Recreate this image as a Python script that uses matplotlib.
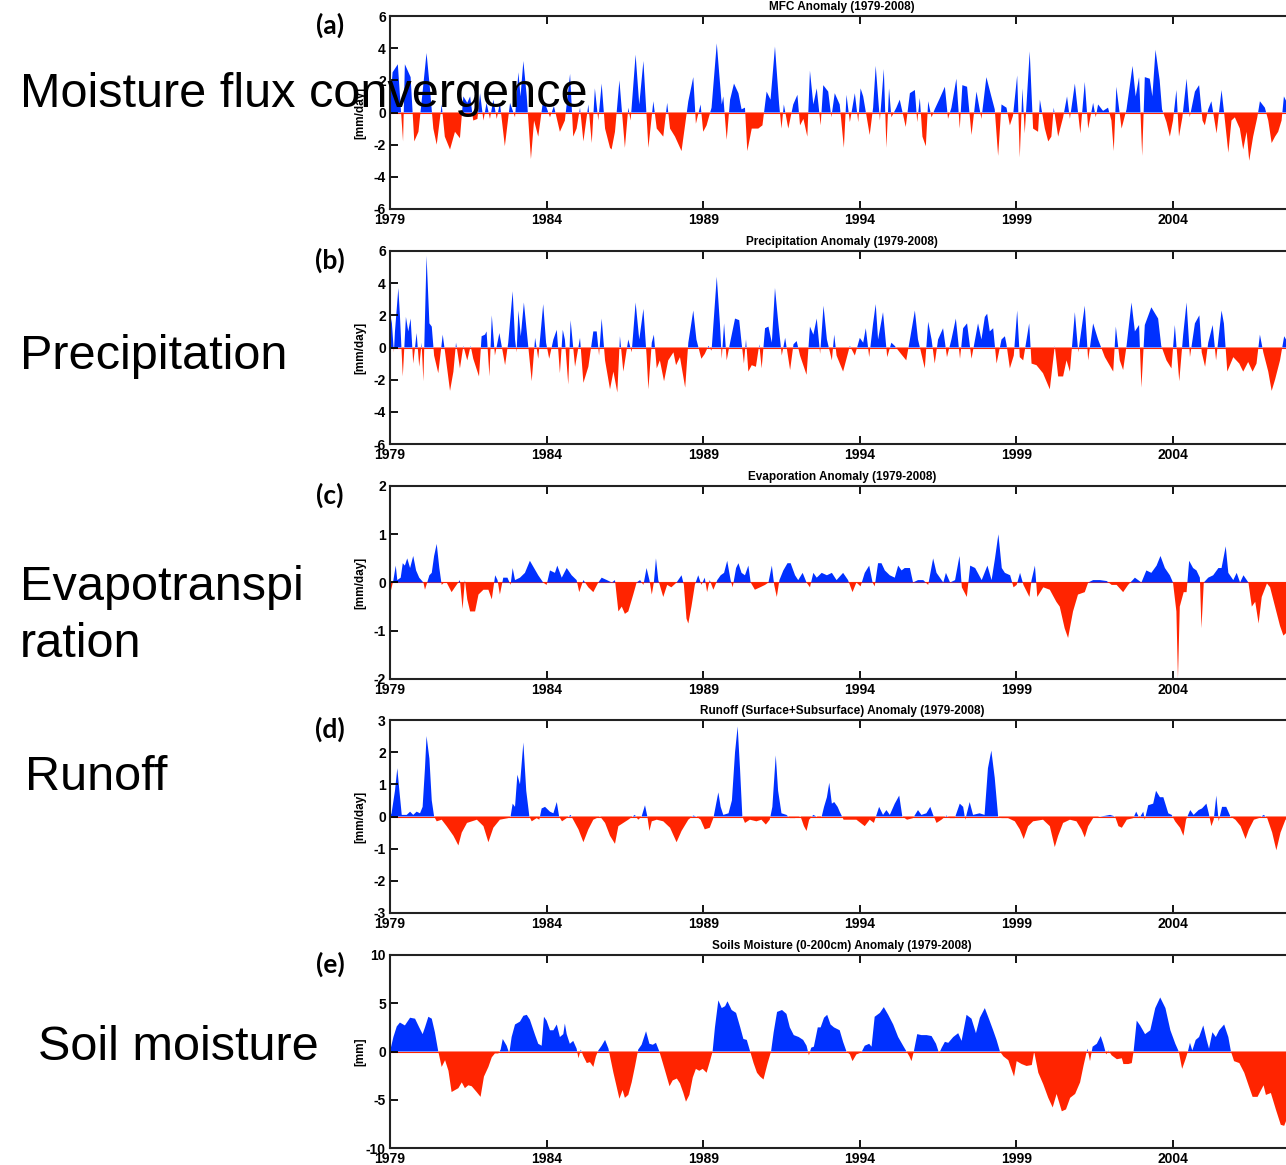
import numpy as np
from matplotlib import pyplot as plt

plt.rcParams['font.family'] = ['Liberation Sans', 'DejaVu Sans']
plt.rcParams['axes.unicode_minus'] = False

W, H = 1286, 1165

# (months since Jan 1979, anomaly)
mfc = [(0,0.5),(1,2.5),(3,3.0),(5,-1.8),(5.7,3.0),(7.9,2.2),(9.3,-1.8),(10.9,-1.2),(12,0.5),
	(14,3.7),(15.3,1.5),(16.6,-1.0),(17.9,-2.0),(19.8,0.5),(21,-1.5),(23,-2.3),(24.9,-1.2),
	(26.8,-1.6),(28.1,1.0),(29.6,0.6),(30.7,1.0),(31.9,-0.5),(33.5,-0.4),(34.5,1.2),(35.8,-0.5),
	(37,0.6),(38.3,-0.4),(39.6,0.8),(40.9,-0.4),(42.1,0.6),(44,-2.1),(46,0.6),(47.9,-0.3),
	(49.2,2.5),(50,1.0),(51.1,3.2),(52.4,1.0),(54,-2.9),(55.2,-0.5),(56.8,-1.5),(58.7,0.8),(60,0.3),
	(61.3,-0.3),(62.8,0.4),(65.1,-1.2),(67,-0.5),(69,2.4),(70.2,-1.5),(71.5,-1.0),
	(72.8,0.3),(74.1,-1.8),(76,0.5),(77.3,-1.9),(78.5,1.5),(79.8,-0.5),(81.1,1.8),(82.4,-1.0),(84.3,-2.2),
	(84.9,-2.3),(86.2,-1.2),(87.9,2.0),(90,-2.2),(91.3,0.3),(92.2,-0.5),(94.1,3.6),(95.5,0.5),
	(97.1,3.2),(99,-2.2),(100.9,0.7),(102.2,-1.0),(104.7,-1.5),(106.2,0.6),(107.3,-1.0),
	(109.2,-1.5),(111.7,-2.4),(114.3,0.7),(116.2,2.2),(117.2,-0.7),(119,0.5),(120,-1.2),
	(121.3,-0.8),(123.2,0.3),(125.2,4.3),(127.1,0.5),(127.7,1.0),(129,-1.7),(130.3,0.8),(131.8,1.8),
	(133.5,1.2),(134.7,0.2),(136,0.3),(136.9,-2.4),(138.6,-1.0),(141.1,-1.0),(142.7,-0.8),
	(144.3,1.3),(145.8,0.8),(147.5,4.1),(149.1,0.5),(150,-1.0),(150.9,0.5),(152.6,-1.0),(154.5,0.5),(156.1,1.1),
	(157.1,-0.8),(158.4,-0.4),(159.9,-1.5),(160.9,2.6),(162.2,0.5),(163.5,1.5),(165,-0.8),(166,1.7),(167.9,1.3),
	(169.1,-0.3),(170.4,1.2),(172.3,0.5),(173.9,-2.2),(174.9,1.1),(176.2,-0.6),(178.1,1.2),(179.4,-0.6),(180.3,1.5),
	(181.3,1.0),(183.8,-1.4),(185.1,0.3),(186.1,2.9),(187.7,-0.5),(189.2,2.7),(190.2,-2.2),(191.2,1.5),(192.1,-0.3),
	(194,0.3),(195.3,0.8),(197.6,-0.9),(199.2,1.2),(201.1,1.4),(202,-0.6),(203,0.9),(204,-1.5),
	(205.3,-2.1),(206.2,0.7),(207.5,-0.3),(208.7,0.2),(210.7,0.9),(212.6,1.6),(213.8,-0.4),(215.1,0.3),
	(217,2.1),(218.3,-1.0),(219.3,1.7),(221.1,1.6),(222.8,-1.4),(224.7,1.3),(226.6,-0.4),(228.5,2.2),
	(230.4,1.0),(231.7,0.2),(233,-2.7),(234.3,0.5),(236.2,0.3),(237.5,-0.8),(238.7,-0.2),(240.3,2.3),
	(241.3,-2.8),(242.3,1.5),(243.2,-1.3),(245.1,3.8),(246.4,-1.0),(248.3,-1.2),(249,0.8),(250.9,-1.0),(252.2,-1.8),
	(253.4,-1.5),(254.3,0.3),(256,-1.5),(257.9,-0.3),(259.4,1.0),(260.5,-0.4),(262.4,1.8),(264.5,-1.3),
	(266.2,1.9),(267.5,-1.0),(269.4,0.6),(270.4,-0.3),(271.3,0.5),(273.2,0.1),(275.1,0.3),(276.4,-0.5),
	(277.3,-2.4),(278.3,1.6),(280.3,-1.0),(282.2,0.2),(284.5,2.9),(285.7,1.0),(287,2.2),(288.2,-2.7),
	(289.2,2.2),(291.1,2.1),(292.1,1.0),(293.3,3.9),(294.9,2.0),(295.8,0.2),(297.5,-0.6),(298.8,-1.5),
	(300,-0.5),(301.3,1.4),(302.3,-1.5),(303.6,-0.3),(305.2,2.1),(306.4,-0.3),(308.4,1.3),(310,1.7),(311.3,-0.5),(312.2,-0.8),
	(313.5,0.2),(314.7,0.7),(316.7,-1.3),(318.6,1.4),(319.9,-0.5),(321.2,-2.5),(322.4,-0.5),(323.7,-0.3),
	(325.6,-1.0),(326.9,-2.3),(328.2,-1.2),(329.2,-3.0),(330.7,-1.5),(332.3,-0.3),(333.3,0.7),(335.2,0.3),
	(336.5,-0.5),(337.8,-1.9),(339.1,-1.5),(340.3,-1.2),(341.6,-0.5),(342.5,1.0),(344,0.5)]

prcp = [(0,1.0),(0.6,1.8),(1.5,-0.3),(1.9,1.0),(3.2,3.7),(3.8,2.0),(4.9,-1.8),(6.1,1.9),(7,1.0),(7.9,1.8),(8.9,-1.0),(10.2,0.9),(11.2,-1.2),(12.1,0.3),(12.8,-2.1),
	(14,5.7),(15.1,1.5),(16,1.3),(16.9,-0.5),(18.5,-1.6),(20.2,0.8),(21.1,-0.3),(23,-2.7),(24.3,-1.5),(25.3,0.3),
	(26.8,-1.3),(28.1,0.1),(29.6,-0.8),(30.9,0.1),(31.9,-0.7),(34.1,-1.8),(35.1,0.7),(36.4,0.8),(37,1.0),
	(38.1,-1.8),(39,2.0),(40.2,-0.5),(41.9,0.9),(44.1,-1.1),(45.3,0.3),(47,3.5),(47.9,0.5),
	(48.5,-0.3),(49.2,2.3),(50.1,0.7),(51.3,2.8),(52.4,1.0),(54.3,-2.1),(55.6,0.6),(56.8,-0.7),(58.7,2.7),(59.8,0.3),
	(61,-0.7),(62.6,0.5),(63.9,1.1),(65.1,-1.6),(66.2,1.1),(67,0.5),(68.3,-2.3),(69.2,1.7),(70.9,-1.2),(72.8,0.6),
	(74.1,-2.2),(76,-1.2),(77.9,1.0),(79.2,1.0),(80.1,-0.5),(81.1,1.8),(82.4,-0.8),(84.3,-2.6),(85.6,-1.5),(87.1,-2.8),(88.1,0.7),
	(89.4,-1.5),(91.3,0.5),(92.6,-0.3),(94.1,2.8),(95.5,0.5),(97.1,2.4),
	(98.3,-0.5),(99,-2.6),(100.3,0.3),(101.1,0.8),(102.2,-1.3),(103.4,-0.8),(105,-2.1),(106.6,-0.8),(108.6,-0.3),
	(109.6,-1.1),(111.1,-0.6),(113.1,-2.5),(114.3,0.3),(116.2,2.3),(117.4,0.5),(119.3,-0.7),(120.6,-0.4),
	(122,0.1),(123.2,-0.2),(125.2,4.4),(126.4,1.5),(127.1,-0.7),(128,1.5),(129,-0.8),(130.3,0.3),(132.2,1.8),
	(133.8,1.7),(134.7,0.3),(135.6,-1.0),(136.4,0.5),(137.3,-1.5),(138.6,-1.1),(140.2,-1.2),(141.5,0.2),(142.4,-1.3),
	(143.7,1.2),(145,1.3),(146.3,0.3),(147.5,3.7),(148.8,1.5),(150.1,-0.5),(151.4,0.6),(153.3,-1.4),(154.6,0.2),(155.8,0.4),
	(157.1,-0.5),(159.6,-1.7),(160.9,1.3),(162.2,0.8),(163.5,1.8),(164.8,-0.4),(166.1,2.6),(167.4,0.5),(169.3,-0.8),(170.2,0.8),
	(171.1,-0.5),(173.6,-1.5),(176.2,0.1),(178.1,-0.5),(180,0.6),
	(181.3,0.3),(182.3,1.2),(183.6,-0.6),(185.1,1.5),(186.1,2.7),(187,0.5),(188.9,2.2),(190.5,-0.6),(192.1,0.3),
	(193.4,0.1),(195.3,-0.3),(197.8,-0.8),(199.2,0.5),(201.1,2.3),(202.3,0.5),(204.9,-1.3),(206.2,1.6),(207.5,0.5),
	(208.7,-1.0),(210,0.5),(211.9,1.2),(213.4,-0.6),(215.1,0.5),(216.8,1.8),(218.4,-0.7),(219.6,1.2),(221.1,1.5),
	(222.8,-0.7),(225.3,1.5),(226.6,0.5),(227.9,1.9),(228.8,2.1),(229.8,1.0),(231.1,1.2),(232.4,-1.0),(234.3,0.5),(235.6,0.7),
	(236.2,0.2),(237.5,-1.3),(239,-0.5),(240.3,2.3),(241.3,-0.6),(242.6,-0.8),(244.9,1.5),(245.8,-1.0),(247.7,-1.1),(250.2,-1.6),(252.8,-2.6),
	(254.7,0.1),(256,-1.8),(257.9,-1.8),(259.2,-0.8),(260.5,-1.5),(262.4,2.2),(263.7,-0.3),(266.2,2.6),(267.5,-0.8),(269.4,1.5),(271.3,0.5),(273.9,-0.6),(277.1,-1.5),
	(278.1,1.3),(279.6,-0.8),(280.9,-1.4),(282.2,0.1),(284.1,2.8),(285.4,1.0),(287,1.4),(287.9,-2.5),(289.2,1.4),(291.7,2.5),(294.3,1.8),(295.5,0.1),
	(297.5,-0.8),(299.4,-1.3),(300.7,1.4),(302.4,-2.1),(303.9,0.8),(305.2,2.8),(306.5,-0.6),(308.4,1.5),(310.1,2.0),(311,-0.3),(312.3,-1.2),
	(313.5,0.3),(315.2,1.4),(316.5,-0.8),(318.6,2.3),(319.5,1.5),(320.8,-1.5),(323.1,-0.6),(325.4,-1.0),(326.9,-1.5),(328.8,-0.9),(330.5,-1.5),(332,-1.0),(333.3,0.8),(334.6,-0.3),
	(336.5,-1.5),(337.8,-2.7),(339.1,-2.0),(341,-0.8),(342.6,0.7),(344,0.3)]

evap = [(0,-0.25),(1.3,0.05),(2.2,0.35),(2.8,0.05),(4.1,0.1),(4.9,0.4),(5.7,0.35),(6.6,0.5),(7.7,0.3),(8.9,0.55),(10,0.25),(11.2,0.1),(12.8,0.0),
	(13.4,-0.15),(15.1,0.15),(16,0.2),(16.9,0.55),(17.9,0.8),(18.9,0.3),(19.8,-0.05),(20.7,0.0),(21.7,0.0),(23.6,-0.2),(25.5,-0.05),(26.8,0.05),
	(27.8,-0.55),(28.7,0.05),(29.6,-0.35),(30.7,-0.6),(32.6,-0.6),(33.9,-0.25),(35.8,-0.15),(37.7,-0.15),(39,-0.35),(40.3,0.15),(41.2,0.05),(42.1,-0.25),(43.4,0.1),(45,0.1),(46.2,-0.05),(47,0.3),
	(47.9,0.05),(49.8,0.1),(51.7,0.2),(53.6,0.45),(55.2,0.3),(56.8,0.15),(58.7,0.0),(60,-0.05),(61.3,0.25),(63.2,0.2),(64.1,0.35),(65.8,0.1),(67.7,0.3),(69.6,0.15),(71.5,0.05),
	(72.5,-0.2),(74.1,0.05),(76,-0.1),(77.9,-0.2),(79.8,0.0),(81.1,0.1),(83.1,0.05),(85,0.0),(86.2,0.05),(87.5,-0.6),(88.8,-0.5),(90,-0.65),(91.3,-0.6),(93.2,-0.25),(94.5,0.0),
	(95.8,0.05),(97.1,-0.05),(98.3,0.3),(99.4,0.05),(100.3,-0.25),(101.1,0.0),(101.9,0.5),(102.8,0.05),(104.7,-0.3),(106.2,-0.05),(107.8,-0.1),(109.8,0.0),(111.7,0.15),(112.6,-0.05),
	(113.6,-0.75),(114.3,-0.85),(115.5,-0.5),(116.8,-0.05),(118.1,0.15),(119.3,-0.05),(120.6,0.1),(121.5,-0.2),(122.5,0.05),(123.9,-0.15),(125.4,0.05),(126.7,0.15),(128,0.2),
	(129.2,0.45),(130.5,0.05),(131.3,-0.1),(132.6,0.3),(133.5,0.4),(134.7,0.2),(136,0.15),(137.3,0.35),(138.2,0.0),(139.8,-0.15),(141.8,-0.1),(143.7,-0.05),(145,0.0),
	(146.3,0.35),(147.2,-0.05),(148.2,-0.3),(149.2,0.05),(150.7,0.25),(152.3,0.4),(153.5,0.4),(155.2,0.15),(156.4,0.05),(158.1,0.2),(159.6,0.0),(160.9,-0.1),(162.2,0.2),
	(163.5,0.1),(165.4,0.2),(167.4,0.15),(169.3,0.2),(171.1,0.05),(173.6,0.2),(175.5,0.05),(177.2,-0.2),(178.7,0.0),(180.3,-0.08),(181.9,0.2),(183.6,0.35),(184.9,0.0),
	(185.7,-0.08),(187,0.4),(188.3,0.4),(189.6,0.25),(191.5,0.15),(193.4,0.1),(194.7,0.35),(196,0.25),(197.2,0.3),(199.2,0.3),(200.4,0.0),(202.3,0.05),(204.3,0.05),
	(206.2,-0.05),(208.1,0.5),(209.4,0.2),(212,0.0),(213,0.2),(214.6,0.0),(216.5,0.05),(218.2,0.55),(219.1,-0.1),(221,-0.3),(222.3,0.35),(224.2,0.3),(226.7,0.05),
	(228.9,0.35),(230.5,0.05),(231.8,0.5),(233.1,1.0),(234.4,0.3),(235.6,0.2),(237.6,0.15),(238.9,-0.1),(240.1,-0.05),(241.4,0.2),(242.7,-0.05),(245,-0.3),(245.8,0.05),
	(247.1,0.35),(248,-0.3),(250.3,-0.1),(252.8,-0.15),(255.3,-0.4),(256.6,-0.5),(258.5,-0.95),(259.8,-1.15),(261.7,-0.6),(263.6,-0.25),(266.2,-0.2),(267.5,0.0),
	(269.4,0.05),(272,0.05),(274.6,0.03),(276.5,-0.05),(278.4,-0.05),(280.9,-0.2),(282.8,-0.05),(285.4,0.1),(287.9,0.0),(289.8,0.25),(291.7,0.2),(293.7,0.35),
	(295.2,0.55),(296.9,0.3),(298.8,0.15),(300,0.0),(301.3,-0.6),(301.9,-2.0),(302.6,-0.5),(304.1,-0.2),(305.2,-0.2),(306.2,0.45),(307.7,0.3),(309,0.25),(310.3,0.1),
	(310.9,-0.95),(311.8,0.0),(313.5,0.1),(315.4,0.15),(317.4,0.3),(318.6,0.3),(320.2,0.75),(321.2,0.2),(323.1,0.05),(324.4,0.2),(325.7,0.0),(327,0.15),(328.9,0.0),
	(330.2,-0.5),(331.5,-0.4),(332.8,-0.85),(334,-0.3),(336,-0.02),(337.2,-0.1),(339.1,-0.5),(341,-0.9),(342.3,-1.1),(343.3,-1.05),(344,-1.0)]

runoff = [(0,0.0),(0.6,0.1),(1.9,0.8),(2.8,1.5),(3.6,0.8),(4.5,0.05),(6.4,0.05),(7.7,0.15),(8.9,0.05),(10.2,0.15),(11.5,0.1),(12.5,0.3),(13.4,1.5),(14,2.5),(15.1,1.8),(16,0.5),
	(16.9,0.0),(17.9,-0.15),(19.8,-0.1),(21.7,-0.3),(24.3,-0.6),(26.2,-0.9),(27.5,-0.5),(29.5,-0.2),(33.3,-0.1),(35.8,-0.3),(37.7,-0.8),(39.6,-0.35),(42.1,-0.1),(45.3,-0.05),
	(46.2,0.0),(47,0.4),(47.9,0.3),(48.8,1.3),(49.8,1.0),(51.1,2.3),(52.2,0.8),(53.4,0.0),(54.3,-0.15),(56.2,-0.05),(57.2,-0.1),(58.1,0.25),(59.4,0.3),(61.3,0.15),(62.6,0.1),
	(63.9,0.45),(64.8,0.0),(65.9,-0.15),(67.7,-0.05),(69.2,0.05),(70.2,-0.1),(72.2,-0.4),(74.1,-0.8),(76,-0.4),(77.9,-0.1),(80.5,0.0),(82.4,-0.2),(84.3,-0.6),(86.2,-0.85),
	(87.5,-0.3),(89.4,-0.2),(91.3,-0.1),(93.8,0.05),(95.1,-0.1),(96.4,0.0),(97.7,0.35),(98.6,0.0),(99.4,-0.45),(100.3,-0.15),(102.2,-0.1),(104.7,-0.15),(107.3,-0.35),
	(109.8,-0.8),(111.7,-0.45),(114.3,-0.1),(116.2,0.03),(117.4,0.0),(119,-0.1),(120.6,-0.4),(122.5,-0.35),(123.9,-0.05),(124.5,0.2),(125.8,0.75),(126.7,0.3),(127.7,0.05),
	(129.7,0.1),(131,0.5),(132.2,2.0),(133.2,2.8),(134.1,1.5),(135,0.0),(136,-0.2),(137.9,-0.1),(140.4,-0.15),(142.3,-0.1),(144,-0.25),(145.5,-0.1),(146.5,0.3),(147.8,1.9),
	(148.7,0.8),(150,0.1),(151.9,0.05),(153.2,-0.05),(155.2,-0.05),(157.3,0.0),(158.6,-0.3),(159.6,-0.45),(160.6,-0.1),(162.2,0.05),(164.5,-0.05),(165.4,0.0),(166.3,0.3),
	(167.4,0.6),(168.3,1.05),(169.3,0.4),(170.2,0.45),(171.5,0.3),(172.3,0.15),(173.8,-0.1),(176.2,-0.1),(178.7,-0.1),(181.9,-0.3),(183.8,-0.1),(185.4,-0.2),(186.4,0.05),
	(187.4,0.3),(188.9,0.05),(190.2,0.2),(191.5,0.05),(193.4,0.4),(195.1,0.65),(196.3,0.0),(198.1,-0.1),(200.4,-0.05),(202.3,0.2),(203.6,0.05),(205.5,0.1),(207,0.3),
	(208.1,0.05),(209.4,-0.2),(211.3,-0.1),(213.2,0.03),(214.5,-0.05),(216.4,-0.05),(218.3,0.4),(219.6,0.3),(220.4,-0.1),(222.1,0.45),(223.4,0.05),(225.9,0.1),(227.8,0.05),
	(229.1,1.5),(230.4,2.05),(231.7,1.2),(233,0.0),(234.3,-0.05),(236.8,-0.05),(239.4,-0.15),(241.3,-0.4),(242.8,-0.7),(244.5,-0.3),(246.4,-0.15),(250.2,-0.1),(252.8,-0.3),
	(254.7,-0.95),(256,-0.6),(257.9,-0.2),(260.5,-0.1),(263,-0.15),(264.9,-0.4),(266.2,-0.65),(267.5,-0.3),(269.4,-0.05),(272,0.0),(273.9,0.02),(275.9,0.05),(277.8,0.0),
	(279.1,-0.3),(280.4,-0.35),(282.3,-0.1),(284.8,-0.05),(285.9,0.15),(287.1,-0.05),(288.6,0.15),(289.2,-0.1),(290.5,0.35),(292.4,0.4),(293.5,0.8),(295,0.6),(296.3,0.6),
	(298.2,0.1),(299.5,0.05),(300.8,-0.15),(302.7,-0.35),(304,-0.6),(305,-0.1),(306.6,0.2),(307.9,0.05),(309.8,0.2),(311.1,0.25),(312.8,0.4),(313.7,0.1),(314.7,-0.3),
	(315.6,-0.1),(316.6,0.65),(317.5,-0.15),(318.8,0.3),(320.4,0.3),(322,0.0),(323.9,-0.1),(325.9,-0.3),(327.8,-0.7),(329.1,-0.4),(331,-0.1),(332.9,-0.05),(334.8,0.05),
	(336.1,-0.05),(338,-0.5),(339.6,-1.05),(341.2,-0.5),(343.1,-0.1),(344.8,-0.05)]

soil = [(0,0.0),(1.3,1.5),(2.6,2.6),(3.8,3.0),(5.7,2.7),(7.7,3.5),(9.6,3.4),(11.2,2.5),(12.5,1.8),(13.4,2.5),(14.7,3.6),(16,3.4),(17.2,2.0),(18.5,0.0),(19.8,-1.6),(21.1,-0.9),
	(22.4,-2.0),(23.6,-4.2),(24.9,-4.0),(26.2,-3.8),(27.5,-3.2),(28.7,-3.8),(30,-3.5),(31.3,-3.6),(33.2,-4.2),(34.7,-4.7),(36,-2.6),(37.7,-1.6),(39,-0.6),(40.2,-0.2),(41.5,-0.2),
	(42.4,0.2),(43.2,1.3),(44.7,0.6),(45.7,-0.2),(46.6,1.5),(47.9,2.8),(49.8,3.1),(51.1,3.7),(52.4,3.8),(53.6,3.3),(55.6,1.7),(56.8,0.8),(58.1,0.6),(59,3.6),(60,3.2),
	(61.3,2.2),(62.6,2.2),(63.9,2.8),(65.1,1.5),(66.4,1.8),(67,2.9),(67.7,1.8),(68.9,0.8),(70.2,1.1),(71.5,0.3),(72.2,-0.7),(73.1,0.2),(74.1,-0.5),(75.4,-1.2),(76.6,-1.1),
	(77.9,-1.6),(78.9,-0.5),(79.8,0.1),(81.1,0.6),(82.4,1.2),(83.7,0.3),(84.3,-0.5),(85.6,-2.2),(86.8,-3.6),(87.9,-4.9),(89.1,-4.0),(90,-4.8),(91.3,-4.5),(92.6,-3.2),
	(93.9,-1.5),(95.1,0.2),(96.4,0.7),(98.1,2.1),(99.4,0.8),(100.7,0.7),(101.9,0.9),(103.2,0.0),(104.1,-0.8),(105.4,-2.0),(107.1,-3.6),(108.3,-3.0),(109.9,-2.8),(111.1,-3.3),
	(112.4,-4.3),(113.4,-5.2),(114.7,-4.5),(116,-2.7),(117.2,-1.8),(118.5,-2.0),(119.8,-1.8),(121.3,-2.2),(122.6,-1.0),(123.6,0.0),(124.5,2.5),(125.8,5.3),(127.1,4.5),
	(128.4,4.7),(129.3,5.2),(130.9,4.3),(132.6,4.0),(134.2,2.5),(135.4,1.3),(136.7,1.2),(138,0.0),(139.3,-1.2),(140.6,-2.2),(141.8,-2.6),(143.1,-2.9),(144.7,-1.2),(146,0.0),
	(147,2.0),(148.3,4.1),(150.2,4.3),(151.9,3.9),(153.2,2.5),(154.7,1.7),(156.6,1.5),(158.3,1.2),(159.6,0.6),(160.5,-0.4),(161.4,0.4),(162.4,0.5),(163.9,2.5),(165,2.5),
	(166.3,3.5),(167.5,3.8),(168.8,2.8),(170.1,2.5),(172.3,2.2),(173.6,1.0),(174.9,0.0),(176.2,-0.3),(177.2,-1.0),(178.7,-0.3),(180.6,-0.1),(181.9,0.6),(183.6,0.8),
	(184.5,0.5),(185.7,3.6),(187.7,4.0),(189.2,4.6),(190.9,3.8),(192.8,2.8),(194.7,1.5),(196.6,0.6),(197.9,0.0),(199,-0.5),(199.8,-1.0),(200.7,0.0),(202,1.8),(203.6,1.7),
	(205.6,1.7),(207.5,1.6),(209.2,0.8),(210.4,-0.2),(211.4,0.4),(212.6,1.0),(213.9,0.9),(215.8,1.5),(217.7,1.9),(219,1.1),(220.9,3.8),(222.8,3.4),(224.5,1.9),(226,3.5),
	(227.9,4.5),(229.6,3.3),(231.1,2.2),(232.4,1.2),(233.7,0.0),(235,-0.5),(236.9,-0.9),(239.1,-2.6),(240.1,-1.0),(242,-1.3),(243.9,-1.5),(245.9,-1.4),(246.8,0.0),
	(248.4,-2.2),(250.3,-3.4),(252.2,-4.8),(253.9,-5.8),(255.4,-4.4),(257.4,-6.2),(259,-6.0),(260.6,-4.8),(262.5,-4.4),(264.4,-3.2),(265.7,-1.5),(266.7,-0.3),(267.2,0.3),
	(268.2,-1.0),(269.2,0.5),(270.8,0.8),(272.3,1.6),(273.3,0.8),(274.4,-0.3),(275.3,0.1),(276.5,-0.4),(278.5,-0.8),(280.4,-0.7),(281,-1.3),(282.9,-1.3),(284.2,-1.2),
	(284.9,0.0),(286.1,3.2),(287.4,2.7),(289.3,1.8),(291.3,2.2),(293.2,4.5),(295.1,5.6),(297.1,4.5),(299,2.2),(300.9,0.8),(302.2,0.0),(303.5,-1.8),(304.8,-0.8),(305.7,0.0),
	(306.5,0.9),(307.4,0.1),(308.7,1.2),(310,1.5),(311.6,2.7),(312.9,1.2),(313.8,0.3),(315.1,2.0),(316.4,1.5),(317.7,2.2),(319.6,2.8),(321.2,1.5),(322.2,0.0),(323.4,-1.0),
	(325.4,-1.2),(327.3,-2.2),(329.2,-3.7),(330.5,-4.7),(332.4,-4.7),(334.7,-3.5),(335.6,-4.5),(337.5,-4.3),(339.4,-6.0),(341.3,-7.6),(342.6,-7.7),(343.6,-7.0)]

series = [mfc, prcp, evap, runoff, soil]
titles = ['MFC Anomaly (1979-2008)', 'Precipitation Anomaly (1979-2008)', 'Evaporation Anomaly (1979-2008)',
	'Runoff (Surface+Subsurface) Anomaly (1979-2008)', 'Soils Moisture (0-200cm) Anomaly (1979-2008)']
units = ['[mm/day]', '[mm/day]', '[mm/day]', '[mm/day]', '[mm]']
ylims = [6, 6, 2, 3, 10]
ysteps = [2, 2, 1, 1, 5]
letters = ['(a)', '(b)', '(c)', '(d)', '(e)']
year_ticks = [1979, 1984, 1989, 1994, 1999, 2004]

# big labels on the left: (text, x px, baseline px)
side_labels = [('Moisture flux convergence', 20, 107), ('Precipitation', 20, 369),
	('Evapotranspi', 20, 600), ('ration', 20, 657), ('Runoff', 25, 790), ('Soil moisture', 38, 1060)]

blue = '#0030ff'
red = '#ff2400'

fig = plt.figure(figsize=(W/100, H/100), dpi=100)

tops = [16, 251, 486, 720, 955]
ax_h = 193
ax_l = 390
ax_w = 904

for i in range(5):
	top = tops[i]
	ax = fig.add_axes([ax_l/W, 1-(top+ax_h)/H, ax_w/W, ax_h/H])
	d = np.array(series[i])
	t = 1979 + d[:,0]/12.
	v = d[:,1]
	ax.fill_between(t, v, 0, where=v>=0, interpolate=True, color=blue, lw=0)
	ax.fill_between(t, v, 0, where=v<=0, interpolate=True, color=red, lw=0)
	ax.axhline(0, color=red, lw=0.8, zorder=0)
	ax.set_xlim(1979, 1979+ax_w/31.32)
	ax.set_ylim(-ylims[i], ylims[i])
	ax.set_yticks(np.arange(-ylims[i], ylims[i]+0.1, ysteps[i]))
	ax.set_xticks(year_ticks)
	ax.tick_params(direction='in', length=6, width=1.3, top=True, right=True, pad=3,
		labelsize=10)
	for lab in ax.get_xticklabels() + ax.get_yticklabels():
		lab.set_fontweight('bold')
	for s in ax.spines.values():
		s.set_linewidth(1.5)
		s.set_color('#222222')
	ax.set_title(titles[i], fontsize=8.5, fontweight='bold', pad=4)
	fig.text(360/W, 1-(top+ax_h/2)/H, units[i], rotation=90, ha='center', va='center',
		fontsize=8.5, fontweight='bold')
	fig.text(330/W, 1-(top+9)/H, letters[i], ha='center', va='center', fontsize=19,
		family=['Lato', 'DejaVu Sans'], fontweight='bold')

for txt, x, y in side_labels:
	fig.text(x/W, 1-y/H, txt, ha='left', va='baseline', fontsize=35, zorder=10)

fig.savefig('out.png', dpi=100)
